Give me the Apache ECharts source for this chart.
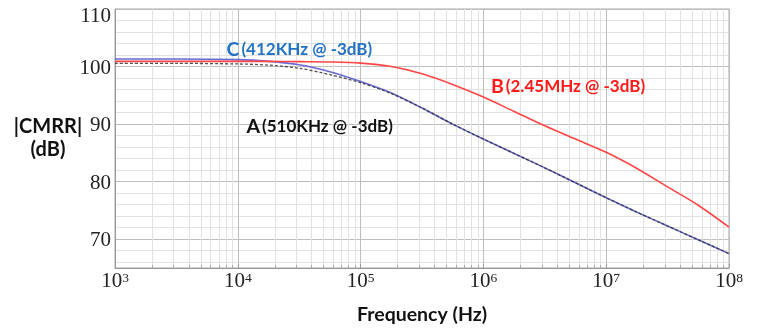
<!DOCTYPE html>
<html>
<head>
<meta charset="utf-8">
<script src="https://cdn.jsdelivr.net/npm/echarts@6/dist/echarts.min.js"></script>
<style>
html,body{margin:0;padding:0;background:#fff;}
#chart{width:765px;height:330px;}
</style>
</head>
<body>
<div id="chart"></div>
<script>
// Frequency points (Hz)
const freqHz = [1e3, 3.16e3, 1e4, 1.78e4, 3.16e4, 5.62e4, 1e5, 1.78e5, 3.16e5, 5.62e5,
                1e6, 1.78e6, 3.16e6, 5.62e6, 1e7, 1.78e7, 3.16e7, 5.62e7, 1e8];
// |CMRR| in dB
const cmrrC = [101.3, 101.3, 101.2, 100.9, 100.3, 99.1, 97.4, 95.4, 92.8, 90.0,
               87.4, 84.9, 82.4, 79.8, 77.2, 74.7, 72.3, 69.9, 67.5];
const cmrrB = [100.9, 100.9, 100.9, 100.9, 100.85, 100.8, 100.6, 100.0, 98.75, 96.9,
               94.7, 92.2, 89.7, 87.4, 85.1, 82.3, 79.1, 75.9, 72.1];
const cmrrA = [100.55, 100.55, 100.45, 100.25, 99.7, 98.6, 97.2, 95.3, 92.8, 90.0,
               87.4, 84.9, 82.4, 79.8, 77.2, 74.7, 72.3, 69.9, 67.5];
// Axis ranges / tick labels
const xDecades = [3, 4, 5, 6, 7, 8];
const yTicks = [70, 80, 90, 100, 110];
const yMin = 65, yMax = 110;
const annC = ['C', '(412KHz @ -3dB)'];
const annA = ['A', '(510KHz @ -3dB)'];
const annB = ['B', '(2.45MHz @ -3dB)'];

// minor grid positions
const minorLog = [];
for (let k = xDecades[0]; k < xDecades[xDecades.length - 1]; k++) {
  for (let m = 2; m <= 9; m++) minorLog.push(k + Math.log10(m));
}
const minorY = [];
for (let v = yMin + 1; v <= yMax; v += 2) if (v % 10 !== 0) minorY.push(v);
const pair = (ys) => freqHz.map((f, i) => [f, ys[i]]);

const chart = echarts.init(document.getElementById('chart'), null, {renderer: 'canvas'});
const LIGHT = '#e2e2e2', MAJOR = '#bdbdbd', NONE = 'rgba(0,0,0,0)';

const annot = (parts, x, y, color) => ({
  type: 'text', x: x, y: y, z: 100,
  style: {
    text: '{a|' + parts[0] + '}{b|' + parts[1] + '}',
    verticalAlign: 'middle', align: 'left',
    rich: {
      a: {fontFamily: 'Lato', fontWeight: 'bold', fontSize: 19.5, fill: color, color: color, padding: [0, 2, 0, 0]},
      b: {fontFamily: 'Lato', fontWeight: 'bold', fontSize: 17, fill: color, color: color}
    }
  }
});

chart.setOption({
  animation: false,
  backgroundColor: '#fff',
  grid: {left: 115, right: 36, top: 9, bottom: 48, show: true, borderColor: '#a8a8a8', borderWidth: 1},
  xAxis: [{
    type: 'log', logBase: 10,
    min: Math.pow(10, xDecades[0]), max: Math.pow(10, xDecades[xDecades.length - 1]),
    name: 'Frequency (Hz)', nameLocation: 'middle', nameGap: 37,
    nameTextStyle: {fontFamily: 'Lato', fontWeight: 'bold', fontSize: 19.5, color: '#111'},
    axisLine: {show: true, lineStyle: {color: '#999'}},
    axisTick: {show: true, inside: true, length: 4, lineStyle: {color: '#999'}},
    splitLine: {show: true, lineStyle: {color: MAJOR, width: 1}},
    axisLabel: {
      margin: 3, color: '#222',
      formatter: (v) => '{b|10}{s|' + Math.round(Math.log10(v)) + '}',
      rich: {
        b: {fontFamily: 'Liberation Serif', fontSize: 21, lineHeight: 21, color: '#222'},
        s: {fontFamily: 'Liberation Serif', fontSize: 13.5, lineHeight: 13.5, verticalAlign: 'top', color: '#222'}
      }
    }
  }, {
    type: 'value', min: xDecades[0], max: xDecades[xDecades.length - 1], gridIndex: 0, position: 'bottom',
    axisLine: {show: false},
    axisLabel: {show: false},
    axisTick: {show: true, inside: true, length: 3, customValues: minorLog, lineStyle: {color: '#aaa'}},
    splitLine: {show: true, lineStyle: {color: LIGHT, width: 1}}
  }],
  yAxis: [{
    type: 'value', min: yMin, max: yMax, interval: 5,
    name: '|CMRR|\n(dB)', nameLocation: 'middle', nameRotate: 0, nameGap: 67, nameMoveOverlap: false,
    nameTextStyle: {fontFamily: 'Lato', fontWeight: 'bold', fontSize: 20, lineHeight: 23, color: '#111', align: 'center', padding: [0, 0, 14, 0]},
    axisLine: {show: true, lineStyle: {color: '#999'}},
    axisTick: {show: false},
    axisLabel: {
      margin: 4,
      formatter: (v) => yTicks.indexOf(v) < 0 ? '' : (v === yMax ? '{t|' + v + '}' : '{n|' + v + '}'),
      rich: {
        n: {fontFamily: 'Liberation Serif', fontSize: 21, color: '#222', padding: [3, 0, 0, 0]},
        t: {fontFamily: 'Liberation Serif', fontSize: 21, color: '#222', padding: [14, 0, 0, 0]}
      }
    },
    splitLine: {show: true, lineStyle: {width: 1, color: [NONE, MAJOR]}}
  }, {
    type: 'value', min: yMin, max: yMax, position: 'left',
    axisLine: {show: false},
    axisLabel: {show: false},
    axisTick: {show: false, customValues: minorY},
    splitLine: {show: true, lineStyle: {color: LIGHT, width: 1}}
  }],
  series: [{
    name: 'C', type: 'line', data: pair(cmrrC), xAxisIndex: 0, yAxisIndex: 0,
    smooth: 0.3, showSymbol: false, symbol: 'none',
    lineStyle: {color: 'rgba(80,80,205,0.85)', width: 1.6}, z: 3
  }, {
    name: 'B', type: 'line', data: pair(cmrrB), xAxisIndex: 0, yAxisIndex: 0,
    smooth: 0.3, showSymbol: false, symbol: 'none',
    lineStyle: {color: '#ff4545', width: 1.6}, z: 4
  }, {
    name: 'A', type: 'line', data: pair(cmrrA), xAxisIndex: 0, yAxisIndex: 0,
    smooth: 0.3, showSymbol: false, symbol: 'none',
    lineStyle: {color: 'rgba(50,50,50,0.85)', width: 1.3, type: [3, 2]}, z: 5
  }],
  graphic: [
    annot(annC, 226.5, 50, '#2273c3'),
    annot(annA, 246.5, 127, '#111111'),
    annot(annB, 491, 87, '#ff1a1a')
  ]
});
</script>
</body>
</html>
